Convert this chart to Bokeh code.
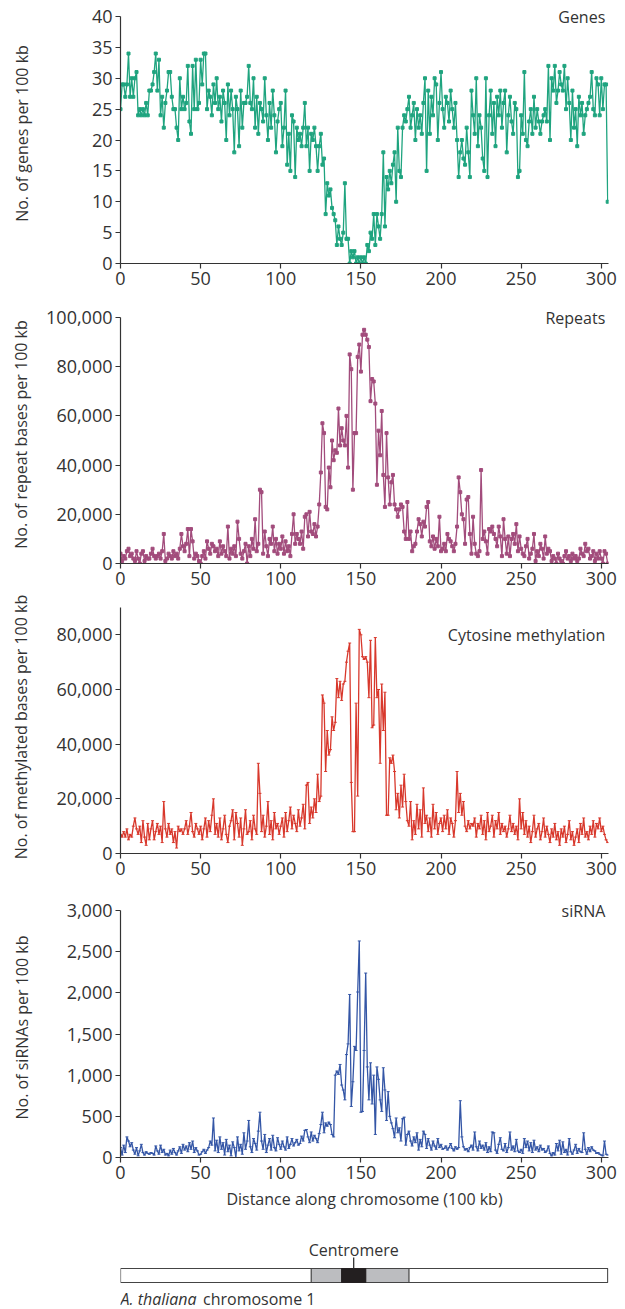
from bokeh.plotting import figure
from bokeh.models import Range1d, FixedTicker, NumeralTickFormatter, Label
from bokeh.layouts import column
from bokeh.embed import file_html
from bokeh.resources import INLINE

# ---------------- data (x = position along chromosome, in 100 kb bins) ----------------
genes = [
    25, 29, 29, 27, 29, 34, 27, 30, 27, 30,
    31, 24, 25, 24, 25, 24, 26, 24, 28, 28,
    29, 31, 34, 28, 33, 24, 27, 22, 26, 28,
    31, 31, 27, 25, 25, 22, 20, 30, 25, 27,
    25, 26, 32, 23, 21, 32, 25, 33, 25, 26,
    33, 29, 34, 34, 25, 28, 27, 24, 29, 26,
    30, 25, 27, 23, 28, 26, 20, 29, 24, 28,
    25, 18, 27, 25, 19, 28, 22, 26, 26, 27,
    32, 26, 25, 30, 22, 27, 21, 26, 25, 23,
    30, 24, 20, 26, 22, 28, 24, 18, 23, 25,
    26, 19, 22, 28, 16, 21, 15, 24, 23, 14,
    22, 20, 21, 19, 22, 26, 19, 22, 15, 21,
    20, 22, 19, 15, 19, 21, 16, 17, 8, 13,
    11, 12, 9, 8, 7, 3, 6, 4, 3, 5,
    13, 4, 4, 0, 2, 1, 2, 0, 1, 0,
    1, 0, 1, 0, 3, 2, 5, 4, 8, 3,
    8, 6, 4, 8, 18, 6, 14, 12, 15, 13,
    16, 18, 10, 22, 15, 14, 22, 24, 23, 25,
    27, 22, 24, 26, 20, 25, 22, 24, 21, 26,
    30, 15, 28, 21, 27, 24, 30, 29, 20, 26,
    31, 25, 22, 27, 26, 23, 28, 25, 22, 26,
    20, 14, 18, 20, 17, 16, 22, 18, 14, 28,
    24, 21, 30, 19, 24, 22, 17, 15, 30, 14,
    24, 28, 21, 26, 19, 27, 24, 28, 22, 26,
    28, 18, 24, 27, 23, 21, 26, 25, 14, 15,
    24, 21, 31, 20, 19, 23, 25, 21, 27, 22,
    25, 23, 21, 23, 24, 25, 23, 32, 20, 30,
    28, 32, 26, 28, 31, 29, 28, 32, 25, 30,
    26, 20, 28, 22, 25, 19, 27, 24, 26, 21,
    24, 25, 26, 27, 31, 25, 24, 30, 29, 24,
    30, 25, 29, 29, 10,
]

# repeat bases per 100 kb, in thousands
repeats_k = [
    4, 1, 3, 2, 5, 6, 3, 4, 2, 1,
    5, 2, 0, 4, 5, 1, 3, 2, 2, 4,
    6, 3, 2, 3, 4, 2, 5, 12, 1, 2,
    4, 3, 2, 5, 3, 4, 2, 6, 12, 7,
    5, 8, 14, 3, 14, 9, 2, 4, 3, 1,
    0, 3, 5, 2, 9, 6, 4, 8, 7, 5,
    6, 3, 9, 4, 7, 5, 3, 15, 2, 6,
    4, 7, 3, 17, 10, 4, 2, 5, 8, 0,
    7, 3, 10, 6, 18, 5, 8, 30, 29, 4,
    13, 7, 3, 10, 8, 15, 5, 10, 4, 8,
    6, 11, 4, 9, 5, 7, 3, 12, 20, 8,
    12, 10, 8, 13, 6, 19, 20, 11, 21, 13,
    12, 16, 11, 15, 24, 37, 57, 53, 23, 22,
    39, 31, 50, 42, 46, 45, 63, 48, 55, 50,
    48, 60, 39, 85, 79, 30, 53, 53, 84, 89,
    78, 93, 95, 93, 91, 88, 66, 75, 74, 65,
    32, 54, 44, 62, 36, 23, 53, 35, 24, 33,
    36, 24, 22, 19, 22, 24, 23, 13, 10, 25,
    10, 13, 5, 7, 8, 13, 18, 16, 11, 17,
    15, 23, 25, 9, 7, 11, 6, 10, 7, 19,
    5, 6, 8, 5, 12, 10, 9, 7, 5, 8,
    15, 35, 29, 20, 18, 8, 26, 27, 12, 4,
    19, 8, 4, 3, 5, 38, 10, 13, 9, 4,
    14, 13, 15, 12, 10, 7, 15, 11, 3, 18,
    10, 4, 11, 3, 10, 12, 8, 16, 5, 11,
    6, 4, 3, 7, 10, 2, 4, 6, 12, 1,
    5, 3, 8, 6, 2, 11, 4, 6, 5, 1,
    3, 2, 0, 4, 2, 1, 0, 3, 5, 2,
    3, 1, 4, 2, 3, 1, 2, 6, 4, 3,
    8, 5, 6, 2, 3, 5, 1, 4, 2, 5,
    2, 0, 5, 4, 0,
]

# methylated bases per 100 kb, in thousands
methylation_k = [
    7, 6, 8, 6, 9, 5, 7, 6, 10, 13,
    9, 7, 10, 4, 12, 6, 3, 11, 5, 9,
    12, 5, 8, 11, 7, 10, 4, 19, 9, 6,
    11, 7, 9, 4, 8, 2, 10, 8, 9, 7,
    9, 12, 7, 10, 15, 8, 6, 11, 9, 7,
    10, 5, 9, 13, 6, 12, 8, 14, 20, 7,
    11, 6, 13, 5, 9, 14, 7, 4, 10, 12,
    16, 5, 15, 11, 6, 13, 3, 9, 16, 7,
    8, 12, 5, 14, 9, 7, 33, 22, 8, 14,
    6, 10, 19, 7, 12, 5, 15, 9, 11, 7,
    10, 13, 6, 15, 8, 12, 17, 9, 14, 11,
    8, 16, 10, 13, 18, 9, 25, 26, 11, 17,
    13, 20, 15, 29, 19, 21, 58, 55, 30, 45,
    36, 38, 50, 45, 48, 64, 57, 63, 56, 62,
    63, 70, 74, 77, 26, 8, 8, 55, 21, 82,
    80, 72, 71, 72, 70, 57, 78, 46, 47, 79,
    57, 60, 33, 62, 45, 59, 14, 14, 35, 33,
    36, 30, 16, 22, 13, 25, 17, 29, 19, 12,
    10, 19, 5, 12, 7, 18, 9, 16, 6, 24,
    11, 14, 8, 13, 6, 18, 9, 15, 7, 11,
    13, 8, 14, 9, 16, 7, 13, 11, 6, 12,
    30, 15, 22, 14, 19, 10, 8, 12, 9, 11,
    10, 13, 6, 11, 9, 14, 7, 12, 5, 15,
    8, 10, 14, 6, 12, 9, 15, 7, 11, 8,
    10, 6, 9, 14, 8, 11, 7, 10, 5, 20,
    9, 15, 7, 12, 6, 10, 4, 8, 14, 6,
    9, 11, 5, 8, 13, 6, 10, 7, 4, 9,
    6, 11, 5, 8, 3, 9, 6, 10, 4, 7,
    12, 5, 8, 3, 6, 9, 4, 11, 7, 13,
    6, 8, 5, 10, 7, 12, 6, 11, 9, 13,
    8, 10, 7, 5, 4,
]

sirna = [
    120, 30, 150, 60, 250, 200, 130, 180, 90, 40,
    120, 20, 80, 160, 60, 30, 70, 50, 40, 60,
    50, 30, 140, 80, 40, 150, 60, 100, 30, 50,
    20, 90, 40, 110, 60, 30, 80, 130, 50, 160,
    90, 140, 70, 180, 100, 200, 60, 120, 80, 30,
    40, 70, 100, 50, 90, 120, 200, 150, 480, 80,
    210, 60, 250, 100, 180, 30, 220, 70, 150, 20,
    190, 120, 0, 250, 80, 160, 40, 300, 100, 200,
    450, 130, 60, 230, 170, 90, 320, 550, 200, 100,
    280, 60, 150, 230, 90, 270, 120, 80, 240, 160,
    100, 200, 130, 90, 250, 110, 160, 230, 140, 180,
    220, 150, 170, 260, 200, 330, 340, 250, 180, 310,
    200, 270, 230, 180, 290, 400, 550, 300, 420, 380,
    430, 400, 280, 250, 1000, 1050, 1010, 1130, 880, 820,
    700, 1250, 1380, 1980, 620, 920, 1350, 1300, 2010, 2630,
    550, 560, 1300, 2240, 1100, 700, 1150, 650, 1000, 280,
    1100, 950, 700, 560, 1090, 820, 450, 800, 500, 420,
    350, 240, 480, 300, 360, 200, 470, 490, 150, 280,
    320, 200, 140, 250, 180, 300, 90, 220, 130, 320,
    280, 110, 230, 150, 90, 200, 140, 100, 230, 120,
    160, 100, 110, 140, 90, 120, 170, 110, 80, 130,
    100, 120, 690, 250, 130, 90, 110, 70, 120, 150,
    90, 310, 130, 80, 200, 110, 150, 90, 180, 60,
    130, 70, 310, 300, 90, 50, 160, 240, 100, 80,
    170, 60, 120, 310, 90, 140, 70, 220, 80, 60,
    100, 50, 230, 120, 200, 80, 180, 60, 210, 90,
    130, 70, 150, 90, 110, 60, 80, 140, 50, 20,
    60, 30, 170, 80, 210, 40, 190, 60, 100, 30,
    230, 70, 40, 90, 160, 50, 110, 70, 60, 300,
    100, 40, 120, 70, 130, 90, 80, 50, 60, 40,
    30, 20, 200, 40, 30,
]

x_ticks = [0, 50, 100, 150, 200, 250, 300]
genes_ticks = [0, 5, 10, 15, 20, 25, 30, 35, 40]
repeats_ticks = [0, 20000, 40000, 60000, 80000, 100000]
methylation_ticks = [0, 20000, 40000, 60000, 80000]
sirna_ticks = [0, 500, 1000, 1500, 2000, 2500, 3000]

# chromosome schematic (100 kb units)
chromosome_span = [0, 304]
pericentromere_span = [119, 180]
centromere_span = [138, 153]
centromere_mark = [145.5]

# ---------------- styling / layout ----------------
FONT = "Open Sans"
TXT = "#333333"
AX = "#333333"
W = 620
LEFT, RIGHT = 120, 12
X_END = 304.5

x_range = Range1d(0, X_END)


def style_axes(p):
    for ax in (p.xaxis[0], p.yaxis[0]):
        ax.axis_line_color = AX
        ax.axis_line_width = 1.2
        ax.major_tick_line_color = AX
        ax.major_tick_line_width = 1.2
        ax.major_tick_in = 0
        ax.major_tick_out = 5
        ax.minor_tick_line_color = None
        ax.major_label_text_font = FONT
        ax.major_label_text_font_size = "18px"
        ax.major_label_text_color = TXT
        ax.major_label_standoff = 3


def panel(values, color, marker, msize, axis_max, yticks, ylabel, label_standoff,
          title, title_y, fig_top, frame_top, axis_top, axis_bot, fig_bot):
    frame_h = axis_bot - frame_top
    y_end = axis_max * frame_h / (axis_bot - axis_top)
    p = figure(width=W, height=fig_bot - fig_top, x_range=x_range,
               y_range=Range1d(0, y_end),
               output_backend="svg", toolbar_location=None,
               min_border_left=LEFT, min_border_right=RIGHT,
               min_border_top=frame_top - fig_top, min_border_bottom=fig_bot - axis_bot)
    p.outline_line_color = None
    p.grid.visible = False
    xs = list(range(len(values)))
    p.line(xs, values, color=color, line_width=1.3)
    p.scatter(xs, values, marker=marker, size=msize, color=color, line_width=1)
    style_axes(p)
    p.xaxis.ticker = FixedTicker(ticks=x_ticks)
    p.xaxis.bounds = (0, X_END)
    p.yaxis.ticker = FixedTicker(ticks=yticks)
    p.yaxis.bounds = (0, axis_max)
    p.yaxis.formatter = NumeralTickFormatter(format="0,0")
    p.yaxis.axis_label = ylabel
    p.yaxis.axis_label_text_font = FONT
    p.yaxis.axis_label_text_font_size = "16px"
    p.yaxis.axis_label_text_font_style = "normal"
    p.yaxis.axis_label_text_color = TXT
    p.yaxis.axis_label_standoff = label_standoff
    p.add_layout(Label(x=302.5, y=title_y, text=title, text_align="right",
                       text_baseline="middle", text_font=FONT, text_font_size="16px",
                       text_color=TXT))
    return p


p1 = panel(genes, "#1fa47f", "square", 3, 40, genes_ticks,
           "No. of genes per 100 kb", 56, "Genes", 40,
           0, 3, 16, 263, 290)
p2 = panel([v * 1000 for v in repeats_k], "#a24c7c", "square", 3, 100000, repeats_ticks,
           "No. of repeat bases per 100 kb", 11, "Repeats", 100000,
           290, 305, 317, 563, 590)
p3 = panel([v * 1000 for v in methylation_k], "#d8382c", "dash", 3, 90000, methylation_ticks,
           "No. of methylated bases per 100 kb", 21, "Cytosine methylation", 80000,
           590, 600, 607, 853, 880)
p4 = panel(sirna, "#3456a6", "dash", 3, 3000, sirna_ticks,
           "No. of siRNAs per 100 kb", 31, "siRNA", 3000,
           880, 897, 910, 1157, 1212)
p4.xaxis.axis_label = "Distance along chromosome (100 kb)"
p4.xaxis.axis_label_text_font = FONT
p4.xaxis.axis_label_text_font_size = "16px"
p4.xaxis.axis_label_text_font_style = "normal"
p4.xaxis.axis_label_text_color = TXT
p4.xaxis.axis_label_standoff = 6

# chromosome schematic, same x scale as the panels (y in pixels from the bottom)
p5 = figure(width=W, height=96, x_range=x_range, y_range=Range1d(0, 96),
            output_backend="svg", toolbar_location=None,
            x_axis_location=None, y_axis_location=None,
            min_border_left=LEFT, min_border_right=RIGHT, min_border_top=0, min_border_bottom=0)
p5.outline_line_color = None
p5.grid.visible = False
p5.quad(left=[chromosome_span[0]], right=[chromosome_span[1]], bottom=[26], top=[40],
        fill_color="white", line_color="#444444", line_width=1.2)
p5.quad(left=[pericentromere_span[0]], right=[pericentromere_span[1]], bottom=[26], top=[40],
        fill_color="#bcbdc0", line_color="#444444", line_width=1.2)
p5.quad(left=[centromere_span[0]], right=[centromere_span[1]], bottom=[26], top=[40],
        fill_color="#231f20", line_color="#231f20", line_width=1.2)
p5.segment(x0=centromere_mark, y0=[40], x1=centromere_mark, y1=[51],
           line_color="#333333", line_width=1.3)
p5.add_layout(Label(x=centromere_mark[0], y=59, text="Centromere", text_align="center",
                    text_baseline="middle", text_font=FONT, text_font_size="16px",
                    text_color=TXT))
p5.add_layout(Label(x=0, y=10, text="A. thaliana", text_align="left",
                    text_baseline="middle", text_font=FONT, text_font_size="16px",
                    text_font_style="italic", text_color=TXT))
p5.add_layout(Label(x=51.5, y=10, text="chromosome 1", text_align="left",
                    text_baseline="middle", text_font=FONT, text_font_size="16px",
                    text_color=TXT))

layout = column(p1, p2, p3, p4, p5, spacing=0)
open("out.html", "w").write(file_html(layout, INLINE))
